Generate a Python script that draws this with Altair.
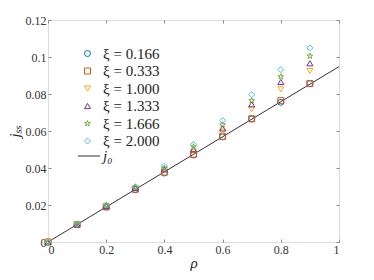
import altair as alt
import pandas as pd

rho = [0.0, 0.1, 0.2, 0.3, 0.4, 0.5, 0.6, 0.7, 0.8, 0.9]
xi_labels = ["ξ = 0.166", "ξ = 0.333", "ξ = 1.000", "ξ = 1.333", "ξ = 1.666", "ξ = 2.000"]
j_0166 = [0.0, 0.0094, 0.0189, 0.0283, 0.0373, 0.0470, 0.0568, 0.0665, 0.0755, 0.0856]
j_0333 = [0.0, 0.0095, 0.0190, 0.0285, 0.0378, 0.0474, 0.0571, 0.0666, 0.0764, 0.0856]
j_1000 = [0.0, 0.0095, 0.0193, 0.0290, 0.0389, 0.0488, 0.0596, 0.0717, 0.0825, 0.0924]
j_1333 = [0.0, 0.0096, 0.0195, 0.0292, 0.0393, 0.0501, 0.0614, 0.0744, 0.0865, 0.0966]
j_1666 = [0.0, 0.0097, 0.0197, 0.0295, 0.0400, 0.0515, 0.0634, 0.0764, 0.0894, 0.1005]
j_2000 = [0.0, 0.0098, 0.0199, 0.0299, 0.0411, 0.0528, 0.0656, 0.0796, 0.0932, 0.1049]
series = [j_0166, j_0333, j_1000, j_1333, j_1666, j_2000]

line_rho = [0.0, 1.0]
line_j0 = [0.0, 0.0948]
line_label = "j₀"

x_ticks = [0, 0.2, 0.4, 0.6, 0.8, 1]
y_ticks = [0, 0.02, 0.04, 0.06, 0.08, 0.1, 0.12]

colors = ["#0072BD", "#D95319", "#EDB120", "#7E2F8E", "#77AC30", "#4DBEEE"]
star = ("M0,-1L0.2245,-0.309L0.951,-0.309L0.363,0.118L0.588,0.809L0,0.382"
        "L-0.588,0.809L-0.363,0.118L-0.951,-0.309L-0.2245,-0.309Z")
shapes = ["circle", "square", "triangle-down", "triangle-up", star, "diamond"]

rows = []
for lab, vals in zip(xi_labels, series):
    for r, v in zip(rho, vals):
        rows.append({"rho": r, "j": v, "xi": lab})
pts = pd.DataFrame(rows)
ln = pd.DataFrame({"rho": line_rho, "j": line_j0, "name": [line_label] * 2})

FONT = "Liberation Serif, Times New Roman, serif"
frame = "#a8a8a8"

xscale = alt.Scale(domain=[0, 1], nice=False)
yscale = alt.Scale(domain=[0, 0.12], nice=False)

common_axis = dict(
    domain=False, ticks=True, tickSize=3, offset=-3, tickColor="#888888",
    grid=False, labelFont=FONT, labelFontSize=12, labelColor="#333333",
    labelExpr="format(datum.value, '~g')",
)

points = alt.Chart(pts).mark_point(filled=False, size=36, strokeWidth=1, opacity=1).encode(
    x=alt.X("rho:Q", scale=xscale,
            axis=alt.Axis(values=x_ticks, labelPadding=2,
                          title="ρ", titleFont=FONT, titleFontSize=15, titleFontStyle="italic",
                          titleFontWeight="normal", titlePadding=0, titleColor="#222222",
                          **common_axis)),
    y=alt.Y("j:Q", scale=yscale,
            axis=alt.Axis(values=y_ticks, labelPadding=2,
                          title="jₛₛ", titleFont=FONT, titleFontSize=14, titleFontStyle="italic",
                          titleFontWeight="normal", titlePadding=3, titleColor="#222222",
                          **common_axis)),
    color=alt.Color("xi:N", scale=alt.Scale(domain=xi_labels, range=colors),
                    legend=alt.Legend(title=None, orient="none", legendX=32, legendY=26,
                                      labelFont=FONT, labelFontSize=15, labelColor="#222222",
                                      rowPadding=1.5, symbolStrokeWidth=1, symbolSize=36,
                                      labelOffset=8, padding=0)),
    shape=alt.Shape("xi:N", scale=alt.Scale(domain=xi_labels, range=shapes)),
)

top_right_axis = dict(
    domain=False, ticks=True, tickSize=3, offset=-3, tickColor="#888888",
    grid=False, labels=False, title=None,
)

line = alt.Chart(ln).mark_line(strokeWidth=1).encode(
    x=alt.X("rho:Q", scale=xscale,
            axis=alt.Axis(orient="top", values=x_ticks, **top_right_axis)),
    y=alt.Y("j:Q", scale=yscale,
            axis=alt.Axis(orient="right", values=y_ticks, **top_right_axis)),
    stroke=alt.Stroke("name:N", scale=alt.Scale(range=["#333333"]),
                      legend=alt.Legend(title=None, orient="none", legendX=29, legendY=124,
                                        labelFont=FONT, labelFontSize=15, labelFontStyle="italic",
                                        labelColor="#222222",
                                        symbolType="stroke", symbolSize=500, symbolStrokeWidth=1,
                                        labelOffset=2, padding=0)),
)

chart = alt.layer(line, points).resolve_axis(x="independent", y="independent").resolve_scale(
    color="independent", stroke="independent", shape="independent"
).properties(
    width=291, height=222,
    autosize=alt.AutoSizeParams(type="none"),
    padding={"left": 40, "top": 12, "right": 25, "bottom": 30},
).configure_view(stroke=frame, strokeWidth=1.3).configure(background="white")

chart.save("out.html", embed_options={"renderer": "svg", "actions": False})
